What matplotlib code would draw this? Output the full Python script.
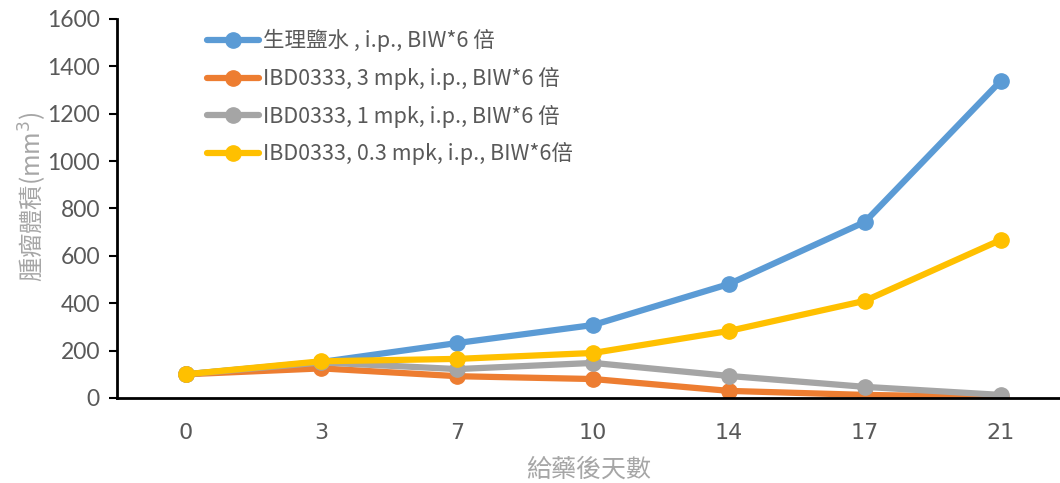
import matplotlib
matplotlib.use("Agg")
import matplotlib.pyplot as plt

days = ["0", "3", "7", "10", "14", "17", "21"]
saline = [100, 152, 232, 308, 481, 743, 1338]
dose_3mpk = [100, 125, 92, 80, 30, 13, 4]
dose_1mpk = [100, 150, 122, 148, 93, 47, 13]
dose_03mpk = [100, 155, 165, 190, 283, 410, 667]

labels = [
    "生理鹽水 , i.p., BIW*6 倍",
    "IBD0333, 3 mpk, i.p., BIW*6 倍",
    "IBD0333, 1 mpk, i.p., BIW*6 倍",
    "IBD0333, 0.3 mpk, i.p., BIW*6倍",
]
colors = ["#5B9BD5", "#ED7D31", "#A5A5A5", "#FFC000"]
series = [saline, dose_3mpk, dose_1mpk, dose_03mpk]

cjk = ["Noto Sans CJK TC", "DejaVu Sans"]

fig = plt.figure(figsize=(10.6, 4.83), dpi=100)
ax = fig.add_axes([0.110, 0.176, 0.890, 0.785])

x = list(range(len(days)))
for vals, c, lab in zip(series, colors, labels):
    ax.plot(x, vals, color=c, lw=4.5, marker="o", ms=11, label=lab,
            solid_capstyle="round", solid_joinstyle="round")

ax.set_xlim(-0.508, 6.436)
ax.set_ylim(0, 1600)
ax.set_yticks(range(0, 1601, 200))
ax.set_xticks(x)
ax.set_xticklabels(days)

for s in ["top", "right"]:
    ax.spines[s].set_visible(False)
for s in ["left", "bottom"]:
    ax.spines[s].set_linewidth(2)
    ax.spines[s].set_color("black")

ax.tick_params(axis="y", direction="out", length=6, width=1.5, colors="black",
               labelcolor="#595959", labelsize=16.5, pad=6)
ax.tick_params(axis="x", length=0, labelcolor="#595959", labelsize=16, pad=18)
for t in ax.get_yticklabels():
    t.set_family(["Lato", "DejaVu Sans"])
for t in ax.get_xticklabels():
    t.set_family(["Liberation Sans Narrow", "DejaVu Sans"])

ax.set_ylabel("腫瘤體積(mm$^3$)", family=cjk, fontsize=17.5, color="#A6A6A6")
ax.yaxis.set_label_coords(-0.072, 0.53)
ax.set_xlabel("給藥後天數", family=cjk, fontsize=18, color="#A6A6A6", labelpad=10)

leg = ax.legend(loc="upper left", bbox_to_anchor=(0.087, 0.995), frameon=False,
                prop={"family": cjk, "size": 15.5}, handlelength=2.4,
                handletextpad=0.2, labelspacing=0.68, borderaxespad=0)
for t in leg.get_texts():
    t.set_color("#595959")

fig.savefig("out.png", dpi=100)
